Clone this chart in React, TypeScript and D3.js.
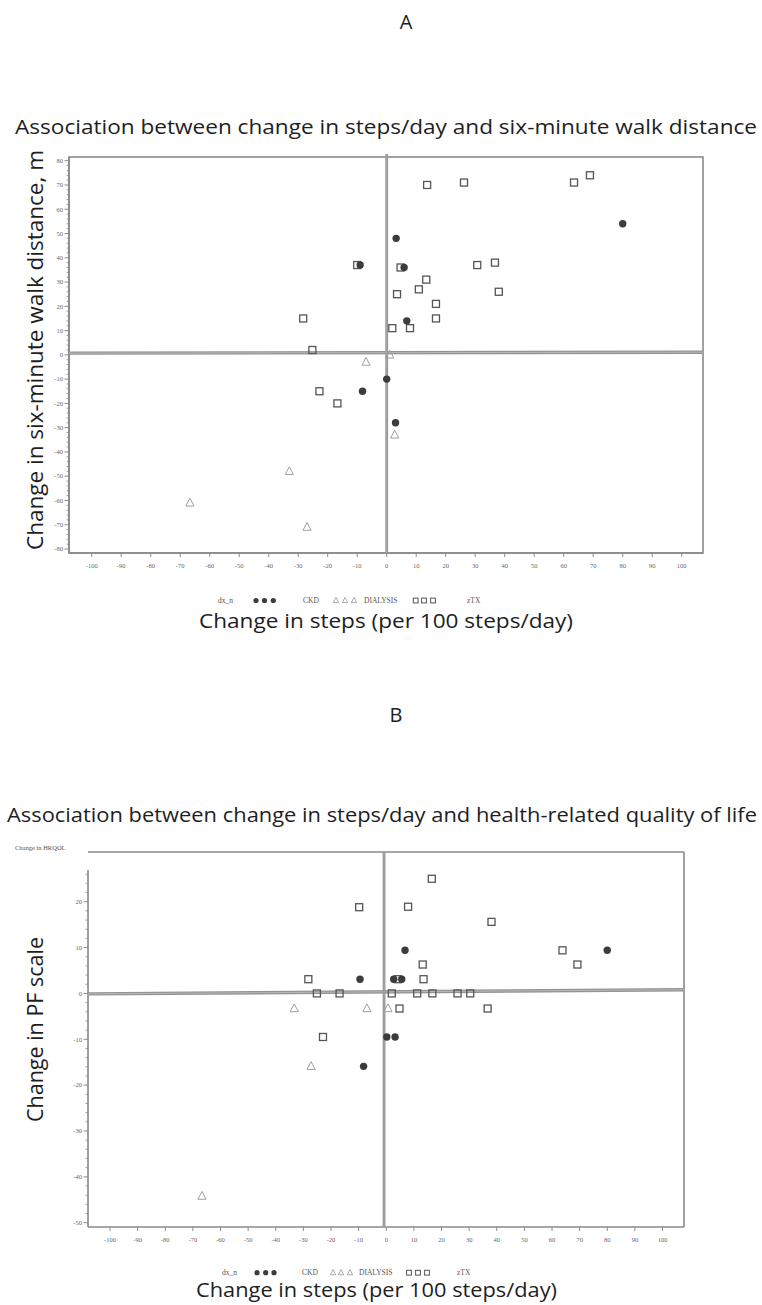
import React from "react";
import * as d3 from "d3";

// ---------- Data ----------
// Panel A: change in steps (per 100 steps/day) vs change in 6MWD (m)
const A_CKD = [
  { x: -9, y: 37 }, { x: 3.2, y: 48 }, { x: 5.9, y: 36 }, { x: 6.8, y: 14 },
  { x: 0, y: -10 }, { x: -8.2, y: -15 }, { x: 3, y: -28 }, { x: 80, y: 54 },
];
const A_DIALYSIS = [
  { x: -7, y: -3 }, { x: 1, y: 0 }, { x: 2.7, y: -33 }, { x: -33, y: -48 },
  { x: -66.7, y: -61 }, { x: -27, y: -71 },
];
const A_ZTX = [
  { x: -10, y: 37 }, { x: -28.3, y: 15 }, { x: -25.2, y: 2 }, { x: -22.8, y: -15 },
  { x: -16.7, y: -20 }, { x: 3.5, y: 25 }, { x: 1.9, y: 11 }, { x: 13.7, y: 70 },
  { x: 26.2, y: 71 }, { x: 63.5, y: 71 }, { x: 68.9, y: 74 }, { x: 4.7, y: 36 },
  { x: 30.7, y: 37 }, { x: 36.7, y: 38 }, { x: 13.4, y: 31 }, { x: 10.9, y: 27 },
  { x: 38, y: 26 }, { x: 16.7, y: 21 }, { x: 16.7, y: 15 }, { x: 7.9, y: 11 },
];
// Panel B: change in steps vs change in PF scale
const B_CKD = [
  { x: -9.5, y: 3.1 }, { x: 2.7, y: 3.1 }, { x: 5.6, y: 3.1 }, { x: 6.8, y: 9.4 },
  { x: 80, y: 9.4 }, { x: 0.2, y: -9.5 }, { x: 3.2, y: -9.5 }, { x: -8.2, y: -15.9 },
];
const B_DIALYSIS = [
  { x: -33.3, y: -3.3 }, { x: -7, y: -3.3 }, { x: 0.6, y: -3.3 },
  { x: -27.2, y: -15.9 }, { x: -66.7, y: -44.2 },
];
const B_ZTX = [
  { x: -9.8, y: 18.8 }, { x: -28.2, y: 3.1 }, { x: -25.1, y: 0 }, { x: -16.9, y: 0 },
  { x: 2, y: 0 }, { x: 16.5, y: 25 }, { x: 7.9, y: 18.9 }, { x: 38.1, y: 15.6 },
  { x: 63.8, y: 9.4 }, { x: 13.2, y: 6.3 }, { x: 69.2, y: 6.3 }, { x: 13.5, y: 3.1 },
  { x: 4.2, y: 3.1 }, { x: 11.2, y: 0 }, { x: 16.7, y: 0 }, { x: 25.8, y: 0 },
  { x: 30.4, y: 0 }, { x: 4.8, y: -3.3 }, { x: 36.7, y: -3.3 }, { x: -22.9, y: -9.5 },
];

const X_TICKS = d3.range(-100, 101, 10);
const A_Y_TICKS = d3.range(-80, 81, 10);
const B_Y_TICKS = d3.range(-50, 21, 10);
const LEGEND_ITEMS = ["CKD", "DIALYSIS", "zTX"];

const A_REF_H = [{ x: -110, y: 0.7 }, { x: 110, y: 1.1 }];
const B_REF_H = [{ x: -108, y: -0.1 }, { x: 108, y: 0.8 }];

// ---------- Styles ----------
const SANS = "'Open Sans', 'Noto Sans', sans-serif";
const SERIF = "'Liberation Serif', 'DejaVu Serif', serif";
const AXIS = "#8a8a8a";
const REF = "#939393";
const CIRCLE_FILL = "#3c3c3c";
const SQUARE_STROKE = "#555";
const TRI_STROKE = "#a0a0a0";

const triPath = (cx: number, cy: number, s: number) =>
  `M${cx},${cy - s * 0.62}L${cx + s * 0.55},${cy + s * 0.42}L${cx - s * 0.55},${cy + s * 0.42}Z`;

function Markers({ data, kind, xs, ys }: any) {
  return (
    <g>
      {data.map((d: any, i: number) => {
        const cx = xs(d.x), cy = ys(d.y);
        if (kind === "circle")
          return <circle key={i} cx={cx} cy={cy} r={3.7} fill={CIRCLE_FILL} />;
        if (kind === "square")
          return (
            <rect key={i} x={cx - 3.5} y={cy - 3.5} width={7} height={7}
              fill="white" fillOpacity={0} stroke={SQUARE_STROKE} strokeWidth={1.3} />
          );
        return <path key={i} d={triPath(cx, cy, 7.5)} fill="none" stroke={TRI_STROKE} strokeWidth={1} />;
      })}
    </g>
  );
}

function Legend({ y, xs }: any) {
  const [lbl, c1, c2, c3, ckd, t1, t2, t3, dia, s1, s2, s3, ztx] = xs;
  const ts = { fontFamily: SERIF, fontSize: 7.5, fill: "#555" } as any;
  return (
    <g>
      <text x={lbl} y={y + 2.5} {...ts}>dx_n</text>
      {[c1, c2, c3].map((cx: number, i: number) => (
        <circle key={"c" + i} cx={cx} cy={y} r={2.6} fill={CIRCLE_FILL} />
      ))}
      <text x={ckd} y={y + 2.5} {...ts}>{LEGEND_ITEMS[0]}</text>
      {[t1, t2, t3].map((cx: number, i: number) => (
        <path key={"t" + i} d={triPath(cx, y, 5)} fill="none" stroke={TRI_STROKE} strokeWidth={0.9} />
      ))}
      <text x={dia} y={y + 2.5} {...ts}>{LEGEND_ITEMS[1]}</text>
      {[s1, s2, s3].map((cx: number, i: number) => (
        <rect key={"s" + i} x={cx - 2.4} y={y - 2.4} width={4.8} height={4.8}
          fill="none" stroke={SQUARE_STROKE} strokeWidth={1} />
      ))}
      <text x={ztx} y={y + 2.5} {...ts}>{LEGEND_ITEMS[2]}</text>
    </g>
  );
}

function XAxis({ xs, y, x0, x1 }: any) {
  return (
    <g>
      <line x1={x0} x2={x1} y1={y} y2={y} stroke={AXIS} strokeWidth={1.6} />
      {X_TICKS.map((t) => (
        <g key={t}>
          <line x1={xs(t)} x2={xs(t)} y1={y} y2={y + 4} stroke={AXIS} strokeWidth={1} />
          <text x={xs(t)} y={y + 15} textAnchor="middle" fontFamily={SERIF} fontSize={6.5} fill="#666">
            {t}
          </text>
        </g>
      ))}
    </g>
  );
}

function YAxis({ ys, x, y0, y1, ticks, minorFrom, minorTo }: any) {
  const minor = d3.range(minorFrom, minorTo + 0.001, 2).filter((v) => v % 10 !== 0);
  return (
    <g>
      <line x1={x} x2={x} y1={y0} y2={y1} stroke={AXIS} strokeWidth={1.6} />
      {minor.map((t: number) => (
        <line key={"m" + t} x1={x - 2.5} x2={x} y1={ys(t)} y2={ys(t)} stroke={AXIS} strokeWidth={0.8} />
      ))}
      {ticks.map((t: number) => (
        <g key={t}>
          <line x1={x - 4.5} x2={x} y1={ys(t)} y2={ys(t)} stroke={AXIS} strokeWidth={1} />
          <text x={x - 6} y={ys(t) + 2.3} textAnchor="end" fontFamily={SERIF} fontSize={6.5} fill="#666">
            {t}
          </text>
        </g>
      ))}
    </g>
  );
}

function RefLines({ path, vx, top, bottom }: any) {
  return (
    <g>
      <path d={path} stroke={REF} strokeWidth={3.4} fill="none" />
      <path d={path} stroke="#b8b8b8" strokeWidth={1} fill="none" />
      <line x1={vx} x2={vx} y1={top} y2={bottom} stroke={REF} strokeWidth={2.8} />
      <line x1={vx} x2={vx} y1={top} y2={bottom} stroke="#b0b0b0" strokeWidth={0.8} />
    </g>
  );
}

export default function App() {
  // Panel A layout
  const AL = 69, AR = 703, AT = 157, AB = 553;
  const xA = d3.scaleLinear().domain([-100, 100]).range([91.7, 681.7]);
  const yA = d3.scaleLinear().domain([-80, 80]).range([549, 160.7]);
  // Panel B layout
  const BL = 88, BR = 684, BT = 852, BB = 1227;
  const xB = d3.scaleLinear().domain([-100, 100]).range([110, 662.5]);
  const yB = d3.scaleLinear().domain([-50, 20]).range([1222.7, 901.7]);

  const lineA = d3.line<any>().x((d) => xA(d.x)).y((d) => yA(d.y));
  const lineB = d3.line<any>().x((d) => xB(d.x)).y((d) => yB(d.y));

  const titleStyle = { fontFamily: SANS, fill: "#1e1e1e" } as any;

  return (
    <svg width={762} height={1305} style={{ position: "absolute", left: 0, top: 0, background: "white" }}>
      <rect width={762} height={1305} fill="white" />

      {/* ---------- Panel A ---------- */}
      <text x={406} y={29} textAnchor="middle" fontSize={20} {...titleStyle}>A</text>
      <text x={15} y={134} fontSize={20} textLength={742} lengthAdjust="spacingAndGlyphs" {...titleStyle}>
        Association between change in steps/day and six-minute walk distance
      </text>

      <defs>
        <clipPath id="clipA"><rect x={AL} y={AT - 3} width={AR - AL} height={AB - AT + 3} /></clipPath>
        <clipPath id="clipB"><rect x={BL} y={BT} width={BR - BL} height={BB - BT} /></clipPath>
      </defs>

      <rect x={AL} y={AT} width={AR - AL} height={AB - AT} fill="none" stroke={AXIS} strokeWidth={1.6} />
      <YAxis ys={yA} x={AL} y0={AT} y1={AB} ticks={A_Y_TICKS} minorFrom={-80} minorTo={80} />
      <XAxis xs={xA} y={AB} x0={AL} x1={AR} />
      <g clipPath="url(#clipA)">
        <RefLines path={lineA(A_REF_H) || ""} vx={xA(0)} top={AT - 3} bottom={AB} />
      </g>
      <Markers data={A_ZTX} kind="square" xs={xA} ys={yA} />
      <Markers data={A_DIALYSIS} kind="triangle" xs={xA} ys={yA} />
      <Markers data={A_CKD} kind="circle" xs={xA} ys={yA} />

      <text transform={`translate(43,350) rotate(-90)`} textAnchor="middle" fontSize={21}
        textLength={400} lengthAdjust="spacingAndGlyphs" {...titleStyle}>
        Change in six-minute walk distance, m
      </text>
      <Legend y={600.5} xs={[218, 256, 264.5, 273.3, 303, 336, 345, 354, 364, 415.7, 424, 433, 467]} />
      <text x={386} y={628} textAnchor="middle" fontSize={20} textLength={374}
        lengthAdjust="spacingAndGlyphs" {...titleStyle}>
        Change in steps (per 100 steps/day)
      </text>

      {/* ---------- Panel B ---------- */}
      <text x={396} y={722} textAnchor="middle" fontSize={20} {...titleStyle}>B</text>
      <text x={7} y={822} fontSize={20} textLength={750} lengthAdjust="spacingAndGlyphs" {...titleStyle}>
        Association between change in steps/day and health-related quality of life
      </text>
      <text x={15} y={850} fontFamily={SERIF} fontSize={6.5} fill="#555">Change in HRQOL</text>

      <line x1={BL} x2={BR} y1={BT} y2={BT} stroke={AXIS} strokeWidth={1.4} />
      <line x1={BR} x2={BR} y1={BT} y2={BB} stroke={AXIS} strokeWidth={1.6} />
      <YAxis ys={yB} x={BL} y0={870} y1={BB} ticks={B_Y_TICKS} minorFrom={-50} minorTo={26} />
      <XAxis xs={xB} y={BB} x0={BL} x1={BR} />
      <g clipPath="url(#clipB)">
        <RefLines path={lineB(B_REF_H) || ""} vx={xB(-0.8)} top={BT} bottom={BB} />
      </g>
      <Markers data={B_ZTX} kind="square" xs={xB} ys={yB} />
      <Markers data={B_DIALYSIS} kind="triangle" xs={xB} ys={yB} />
      <Markers data={B_CKD} kind="circle" xs={xB} ys={yB} />

      <text transform={`translate(43,1029.5) rotate(-90)`} textAnchor="middle" fontSize={21}
        textLength={185} lengthAdjust="spacingAndGlyphs" {...titleStyle}>
        Change in PF scale
      </text>
      <Legend y={1272.7} xs={[222, 257, 265.7, 274, 302, 333, 341, 350, 359, 409, 418, 427, 457]} />
      <text x={376.5} y={1297} textAnchor="middle" fontSize={20} textLength={361}
        lengthAdjust="spacingAndGlyphs" {...titleStyle}>
        Change in steps (per 100 steps/day)
      </text>
    </svg>
  );
}
